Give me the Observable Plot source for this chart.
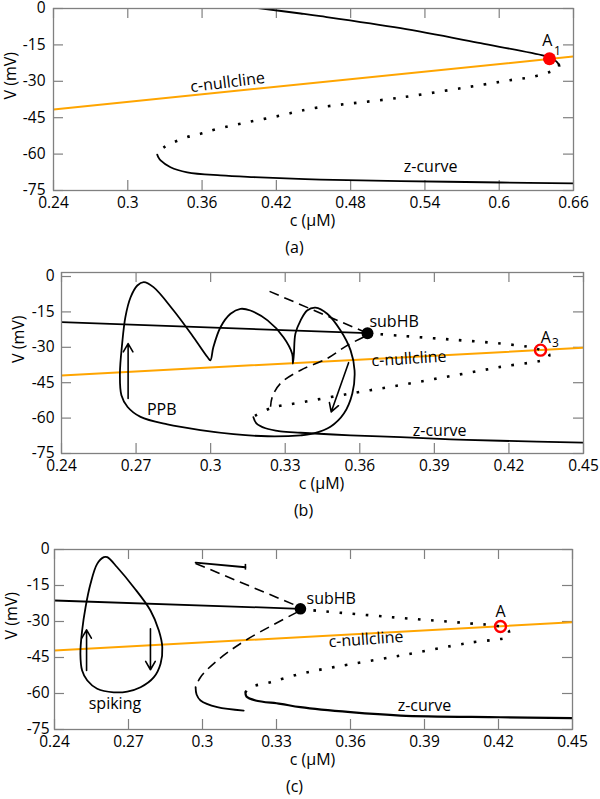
<!DOCTYPE html>
<html><head><meta charset="utf-8">
<script src="https://cdn.jsdelivr.net/npm/d3@7"></script>
<script src="https://cdn.jsdelivr.net/npm/@observablehq/plot@0.6"></script>
<style>
body{margin:0;background:#fff;}
#chart{width:600px;}
#chart svg{display:block;}
</style></head><body><div id="chart"></div>
<script>
// ---------- Panel (a) ----------
const aXTicks = [0.24, 0.3, 0.36, 0.42, 0.48, 0.54, 0.6, 0.66];
const aYTicks = [0, -15, -30, -45, -60, -75];
const aNullcline = [[0.24, -41.6], [0.66, -19.8]];
const aUpperStable = [[0.4016, 0.4], [0.4396, -2.06], [0.4557, -3.17], [0.5204, -8.12], [0.585, -14.3], [0.6359, -19.4], [0.6408, -20.2], [0.6456, -21.6], [0.648, -22.9]];
const aMiddleUnstable = [[0.648, -22.9], [0.6483, -24.2], [0.6402, -26.25], [0.6254, -28.3], [0.6106, -29.4], [0.5877, -31.3], [0.5204, -36.7], [0.4477, -41.3], [0.4234, -44.1], [0.3965, -46.9], [0.3723, -49.6], [0.3588, -51.6], [0.348, -53.0], [0.3372, -55.1], [0.3291, -57.2], [0.324, -59.3]];
const aLowerStable = [[0.3238, -60.2], [0.3248, -61.4], [0.3265, -62.6], [0.3345, -65.4], [0.348, -67.5], [0.3749, -68.8], [0.4016, -69.5], [0.4557, -70.5], [0.5204, -71.1], [0.6012, -71.7], [0.66, -72.1]];
const aPointA1 = [[0.6406, -20.7]];
const aLabels = [{t: "c-nullcline", c: 0.3806, v: -30.5}, {t: "z-curve", c: 0.5446, v: -65.1}, {t: "A", c: 0.6389, v: -13.5}];
const aSubs = [{t: "1", c: 0.647, v: -17.5}];

// ---------- Panel (b) ----------
const bXTicks = [0.24, 0.27, 0.3, 0.33, 0.36, 0.39, 0.42, 0.45];
const bYTicks = [0, -15, -30, -45, -60, -75];
const bNullcline = [[0.24, -41.9], [0.45, -30.2]];
const bUpperStable = [[0.24, -19.3], [0.3631, -24.0]];
const bUnstable = [[0.3631, -24.0], [0.3764, -25.1], [0.3965, -26.7], [0.4166, -28.4], [0.4299, -30.2], [0.4327, -31.2], [0.4362, -33.0], [0.4356, -34.6], [0.4166, -38.3], [0.3965, -42.2], [0.3764, -46.0], [0.3563, -49.6], [0.3362, -53.4], [0.3241, -55.8], [0.3172, -59.4]];
const bLowerStable = [[0.3172, -59.6], [0.3184, -62.2], [0.3221, -64.3], [0.3281, -65.6], [0.3362, -66.2], [0.3563, -67.3], [0.3764, -68.1], [0.3965, -69.0], [0.4166, -69.6], [0.45, -70.4]];
const bPOMax = [[0.3237, -6.3], [0.3615, -23.3]];
const bPOMin = [[0.3616, -25.6], [0.3545, -29.5], [0.3469, -34.7], [0.3362, -39.7], [0.3281, -45.3], [0.3248, -51.0], [0.3241, -55.2]];
const bTrajectory = [[0.3092, -66.8], [0.2959, -65.1], [0.2826, -62.7], [0.2718, -59.5], [0.2666, -55.3], [0.2641, -50.3], [0.2635, -41.2], [0.2644, -28.5], [0.2657, -17.2], [0.2678, -8.8], [0.2705, -3.8], [0.2731, -2.4], [0.277, -4.5], [0.2851, -14.4], [0.2931, -25.7], [0.2987, -34.1], [0.2999, -35.5], [0.3011, -29.9], [0.304, -21.4], [0.308, -15.8], [0.312, -13.7], [0.316, -14.4], [0.3229, -18.6], [0.3293, -25.7], [0.3328, -32.7], [0.3331, -36.9], [0.3335, -32.7], [0.3341, -24.2], [0.3362, -18.6], [0.3388, -14.4], [0.3422, -13.2], [0.3469, -15.8], [0.3522, -22.8], [0.3563, -31.3], [0.3579, -39.8], [0.357, -49.6], [0.3536, -58.1], [0.3482, -63.7], [0.3415, -66.5], [0.3362, -67.3], [0.3229, -67.7]];
const bArrows = [{c1: 0.2668, v1: -51.7, c2: 0.2668, v2: -28.4}, {c1: 0.3555, v1: -36.5, c2: 0.3485, v2: -57.4}];
const bSubHB = [[0.3631, -24.0]];
const bPointA3 = [[0.4327, -31.2]];
const bLabels = [{t: "subHB", c: 0.3738, v: -19.2}, {t: "A", c: 0.4348, v: -26.0}, {t: "c-nullcline", c: 0.3798, v: -34.9}, {t: "z-curve", c: 0.3921, v: -65.6}, {t: "PPB", c: 0.2803, v: -56.7}];
const bSubs = [{t: "3", c: 0.4387, v: -28.1}];

// ---------- Panel (c) ----------
const cXTicks = [0.24, 0.27, 0.3, 0.33, 0.36, 0.39, 0.42, 0.45];
const cYTicks = [0, -15, -30, -45, -60, -75];
const cNullcline = [[0.24, -42.1], [0.45, -30.3]];
const cUpperStable = [[0.24, -21.25], [0.3397, -24.7]];
const cUnstable = [[0.3397, -24.9], [0.3803, -28.5], [0.4073, -30.7], [0.4208, -32.1], [0.4241, -33.75], [0.4243, -35.0], [0.4241, -36.25], [0.4073, -39.0], [0.3803, -44.2], [0.3533, -49.0], [0.3397, -51.8], [0.3276, -55.3], [0.3195, -57.4], [0.3174, -59.5]];
const cLowerStable = [[0.3174, -59.5], [0.3178, -61.25], [0.3215, -62.9], [0.3316, -64.3], [0.3397, -65.7], [0.36, -67.8], [0.3803, -69.2], [0.4208, -69.9], [0.45, -70.3]];
const cPOMaxUnstable = [[0.2972, -5.8], [0.3389, -23.75]];
const cPOMaxStable = [[0.2972, -5.5], [0.3174, -7.4]];
const cPOMaxEnd = [{c: 0.3174, v1: -6.2, v2: -8.6}];
const cPOMinUnstable = [[0.3384, -26.1], [0.3174, -37.9], [0.306, -46.25], [0.2992, -53.2], [0.2972, -57.4]];
const cPOMinStable = [[0.2972, -57.4], [0.2976, -60.4], [0.2992, -62.9], [0.306, -65.7], [0.3167, -67.1]];
const cSpiking = [[0.26, -3.2], [0.2573, -6.0], [0.2546, -14.3], [0.2526, -24.0], [0.2512, -33.75], [0.2505, -43.5], [0.2512, -50.4], [0.2533, -54.6], [0.2573, -58.0], [0.264, -59.5], [0.2695, -59.2], [0.2749, -57.4], [0.2803, -53.2], [0.283, -47.6], [0.2837, -40.7], [0.2823, -33.75], [0.2789, -25.4], [0.2721, -15.7], [0.2654, -7.4], [0.2614, -3.2]];
const cArrows = [{c1: 0.253, v1: -50.4, c2: 0.253, v2: -33.5}, {c1: 0.2789, v1: -33.0, c2: 0.2789, v2: -50.1}];
const cSubHB = [[0.3397, -24.7]];
const cPointA = [[0.4208, -32.1]];
const cLabels = [{t: "subHB", c: 0.3522, v: -20.5}, {t: "A", c: 0.4208, v: -25.8}, {t: "c-nullcline", c: 0.3663, v: -37.5}, {t: "z-curve", c: 0.39, v: -65}, {t: "spiking", c: 0.2645, v: -64.2}];

// ---------- drawing ----------
const FONT = '"Open Sans", "Noto Sans", sans-serif';
const FRAME = "#808080";
const ORANGE = "#ffa500";
const TICKFONT = 15.5;
const X = d => d[0], Y = d => d[1];
const solid = {x: X, y: Y, stroke: "black", strokeWidth: 1.8, clip: true, curve: "catmull-rom"};
const dotted = {x: X, y: Y, stroke: "black", strokeWidth: 2.6, strokeDasharray: "2.6,10.5", strokeLinecap: "butt", clip: true, curve: "catmull-rom"};
const dashed = {x: X, y: Y, stroke: "black", strokeWidth: 1.6, strokeDasharray: "10,6", strokeLinecap: "butt", clip: true, curve: "catmull-rom"};

function panel(cfg) {
  const {height, mt, mb, ml, mr, xDomain, yDomain, xTicks, yTicks, yPad, marks, caption, capX} = cfg;
  const FH = height - mt - mb, FW = 600 - ml - mr;
  const cx = ml + FW / 2;
  return Plot.plot({
    width: 600, height, marginTop: mt, marginBottom: mb, marginLeft: ml, marginRight: mr,
    x: {domain: xDomain}, y: {domain: yDomain},
    style: {fontFamily: FONT, fontSize: TICKFONT + "px", color: "black", background: "white", overflow: "visible"},
    marks: [
      Plot.axisX(xTicks, {tickSize: 0, tickPadding: 6, tickFormat: d => String(d), label: null, fontSize: TICKFONT}),
      Plot.axisY(yTicks, {tickSize: 0, tickPadding: yPad, tickFormat: d => String(d), label: null, fontSize: TICKFONT}),
      Plot.tickX(xTicks, {x: d => d, insetTop: FH - 10, stroke: FRAME, strokeWidth: 1.2}),
      Plot.tickX(xTicks, {x: d => d, insetBottom: FH - 10, stroke: FRAME, strokeWidth: 1.2}),
      Plot.tickY(yTicks, {y: d => d, insetRight: FW - 10, stroke: FRAME, strokeWidth: 1.2}),
      Plot.tickY(yTicks, {y: d => d, insetLeft: FW - 10, stroke: FRAME, strokeWidth: 1.2}),
      ...marks,
      Plot.frame({stroke: FRAME, strokeWidth: 1.3}),
      Plot.text(["c (µM)"], {frameAnchor: "bottom", dy: 30, dx: -1, text: d => d, fontSize: 16, lineAnchor: "middle"}),
      Plot.text(["V (mV)"], {frameAnchor: "left", dx: -43, text: d => d, fontSize: 16, rotate: -90, lineAnchor: "middle"}),
      Plot.text([caption], {frameAnchor: "bottom", dy: 57.5, dx: capX - cx, text: d => d, fontSize: 16, lineAnchor: "middle"})
    ]
  });
}

function labelMarks(labels, subs, rot) {
  const m = [Plot.text(labels, {x: "c", y: "v", text: "t", fontSize: 16, lineAnchor: "middle", rotate: d => d.t === "c-nullcline" ? rot : 0})];
  if (subs) m.push(Plot.text(subs, {x: "c", y: "v", text: "t", fontSize: 12, lineAnchor: "middle"}));
  return m;
}

const chart = document.getElementById("chart");

chart.append(panel({
  height: 262, mt: 8, mb: 72, ml: 53, mr: 27,
  xDomain: [0.24, 0.66], yDomain: [-75, 0], xTicks: aXTicks, yTicks: aYTicks, yPad: 8,
  caption: "(a)", capX: 294,
  marks: [
    Plot.line(aNullcline, {x: X, y: Y, stroke: ORANGE, strokeWidth: 2, clip: true}),
    Plot.line(aUpperStable, solid),
    Plot.line(aMiddleUnstable, dotted),
    Plot.line(aLowerStable, solid),
    Plot.dot(aPointA1, {x: X, y: Y, r: 6.5, fill: "#ff0000", stroke: "none"}),
    ...labelMarks(aLabels, aSubs, -7)
  ]
}));

chart.append(panel({
  height: 268, mt: 10, mb: 77, ml: 61, mr: 17,
  xDomain: [0.24, 0.45], yDomain: [-75, 1.7], xTicks: bXTicks, yTicks: bYTicks, yPad: 7,
  caption: "(b)", capX: 303,
  marks: [
    Plot.line(bNullcline, {x: X, y: Y, stroke: ORANGE, strokeWidth: 2, clip: true}),
    Plot.line(bUpperStable, solid),
    Plot.line(bUnstable, dotted),
    Plot.line(bLowerStable, solid),
    Plot.line(bPOMax, dashed),
    Plot.line(bPOMin, dashed),
    Plot.line(bTrajectory, {...solid, curve: "catmull-rom-closed"}),
    Plot.arrow(bArrows, {x1: "c1", y1: "v1", x2: "c2", y2: "v2", stroke: "black", strokeWidth: 1.6, headLength: 9}),
    Plot.dot(bSubHB, {x: X, y: Y, r: 6, fill: "black", stroke: "none"}),
    Plot.dot(bPointA3, {x: X, y: Y, r: 5.5, fill: "none", stroke: "#ff0000", strokeWidth: 2.4}),
    ...labelMarks(bLabels, bSubs, -3.5)
  ]
}));

chart.append(panel({
  height: 269, mt: 19, mb: 70, ml: 54, mr: 28,
  xDomain: [0.24, 0.45], yDomain: [-75, 0], xTicks: cXTicks, yTicks: cYTicks, yPad: 5,
  caption: "(c)", capX: 294,
  marks: [
    Plot.line(cNullcline, {x: X, y: Y, stroke: ORANGE, strokeWidth: 2, clip: true}),
    Plot.line(cUpperStable, solid),
    Plot.line(cUnstable, dotted),
    Plot.line(cLowerStable, {...solid, strokeWidth: 2.2}),
    Plot.line(cPOMaxUnstable, dashed),
    Plot.line(cPOMaxStable, solid),
    Plot.ruleX(cPOMaxEnd, {x: "c", y1: "v1", y2: "v2", stroke: "black", strokeWidth: 1.6}),
    Plot.line(cPOMinUnstable, dashed),
    Plot.line(cPOMinStable, solid),
    Plot.line(cSpiking, {...solid, curve: "catmull-rom-closed"}),
    Plot.arrow(cArrows, {x1: "c1", y1: "v1", x2: "c2", y2: "v2", stroke: "black", strokeWidth: 1.6, headLength: 9}),
    Plot.dot(cSubHB, {x: X, y: Y, r: 5.8, fill: "black", stroke: "none"}),
    Plot.dot(cPointA, {x: X, y: Y, r: 5.5, fill: "none", stroke: "#ff0000", strokeWidth: 2.4}),
    ...labelMarks(cLabels, null, -4)
  ]
}));
</script></body></html>
